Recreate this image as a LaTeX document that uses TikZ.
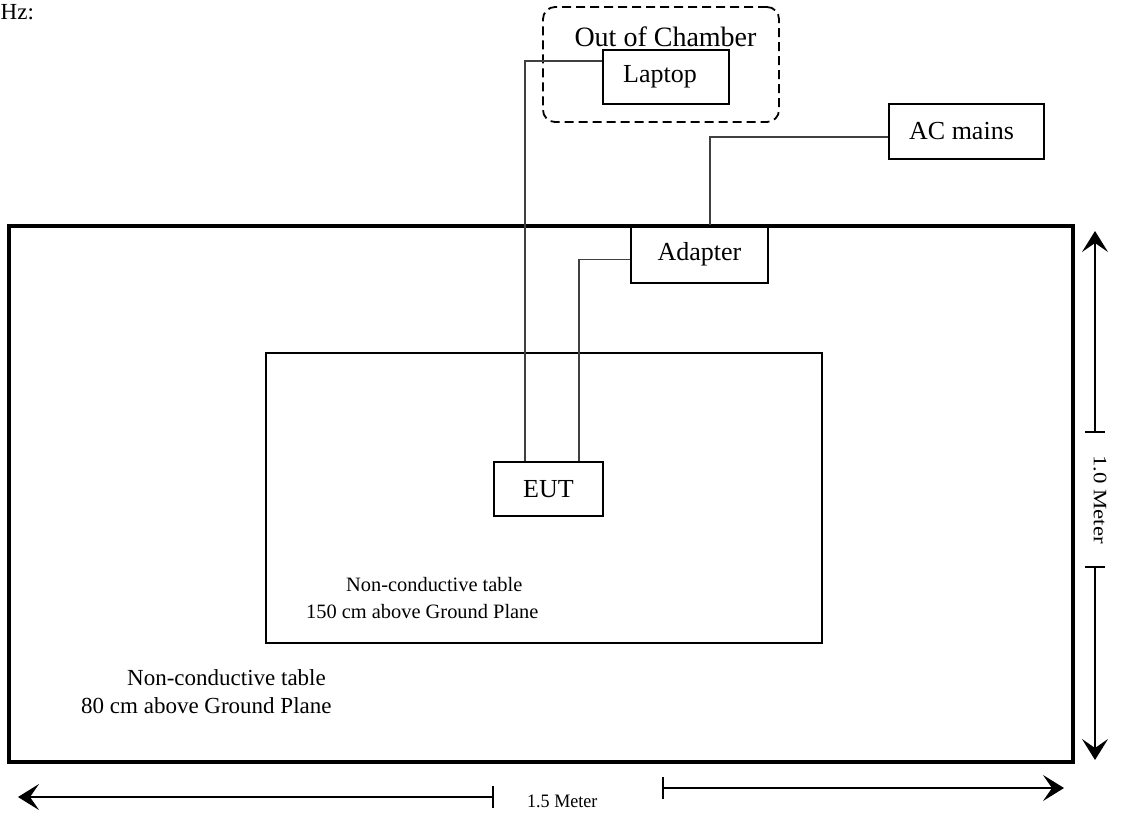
\documentclass[tikz,border=0pt]{standalone}
\usepackage{fontspec}
\setmainfont{Liberation Serif}
\usetikzlibrary{arrows.meta}
\begin{document}
\begin{tikzpicture}[x=1pt,y=-1pt,
  box/.style={draw, line width=1.8pt, inner sep=0pt, font=\fontsize{26}{30}\selectfont},
  cable/.style={draw=black!75, line width=1.3pt},
  dim/.style={line width=1.5pt, -{Stealth[length=21pt,width=26pt,inset=9pt]}},
  tickmark/.style={line width=1.5pt},
  lbl/.style={inner sep=0pt, anchor=base west},
  outerlbl/.style={lbl, font=\fontsize{23}{27}\selectfont},
  innerlbl/.style={lbl, font=\fontsize{20.4}{24}\selectfont},
  dimlbl/.style={inner sep=0pt, font=\fontsize{19}{22}\selectfont},
]
\useasboundingbox (0,0) rectangle (1126,812);

% header fragment
\node[lbl, font=\fontsize{23}{27}\selectfont] (hz) at (0.5,19) {Hz:};

% tables
\node[box, line width=3.5pt, minimum width=1064pt, minimum height=536pt] (outer) at (541,494) {};
\node[box, minimum width=556pt, minimum height=290pt] (inner) at (544,498) {};

% equipment
\node[box, minimum width=109pt, minimum height=54pt] (eut) at (548.5,489) {EUT};
\node[draw, line width=1.8pt, rounded corners=12pt, dash pattern=on 9pt off 5pt,
      minimum width=236pt, minimum height=115pt] (chamber) at (661,64.5) {};
\node[inner sep=0pt, anchor=base, font=\fontsize{28}{32}\selectfont] (chamberlbl) at (665.5,46) {Out of Chamber};
\node[box, minimum width=126pt, minimum height=54pt] (laptop) at (666,77) {\hspace*{-12pt}Laptop};
\node[box, minimum width=137pt, minimum height=57pt] (adapter) at (699.5,254.5) {Adapter};
\node[box, minimum width=155pt, minimum height=55pt] (ac) at (966.5,131.5) {\hspace*{-10pt}AC mains};

% cables
\draw[cable] ([yshift=16pt]laptop.west) -| ([xshift=-23.5pt]eut.north);
\draw[cable] ([yshift=-5pt]adapter.west) -| ([xshift=30.5pt]eut.north);
\draw[cable] ([yshift=-5.5pt]ac.west) -| ([xshift=10.5pt]adapter.north);

% table labels
\node[innerlbl] (in1) at (346,591) {Non-conductive table};
\node[innerlbl] (in2) at (306,618) {150 cm above Ground Plane};
\node[outerlbl] (out1) at (127,685) {Non-conductive table};
\node[outerlbl] (out2) at (81,713) {80 cm above Ground Plane};

% vertical dimension
\coordinate (vtop) at (1095,231);
\coordinate (vt1) at (1095,432);
\coordinate (vb1) at (1095,567);
\coordinate (vbot) at (1095,760);
\draw[dim] (vt1) -- (vtop);
\draw[dim] (vb1) -- (vbot);
\draw[tickmark] ([xshift=-10pt]vt1) -- ([xshift=10pt]vt1);
\draw[tickmark] ([xshift=-10pt]vb1) -- ([xshift=10pt]vb1);
\node[dimlbl, rotate=-90, xscale=1.2] (vlbl) at (1100,499.5) {1.0 Meter};

% horizontal dimension
\coordinate (hl) at (18,797);
\coordinate (hl1) at (493,797);
\coordinate (hr1) at (663,788);
\coordinate (hr) at (1064,788);
\draw[dim] (hl1) -- (hl);
\draw[dim] (hr1) -- (hr);
\draw[tickmark] ([yshift=-11pt]hl1) -- ([yshift=11pt]hl1);
\draw[tickmark] ([yshift=-11pt]hr1) -- ([yshift=11pt]hr1);
\node[dimlbl, anchor=base west, xscale=0.95] (hlbl) at (527,807) {1.5 Meter};
\end{tikzpicture}
\end{document}
